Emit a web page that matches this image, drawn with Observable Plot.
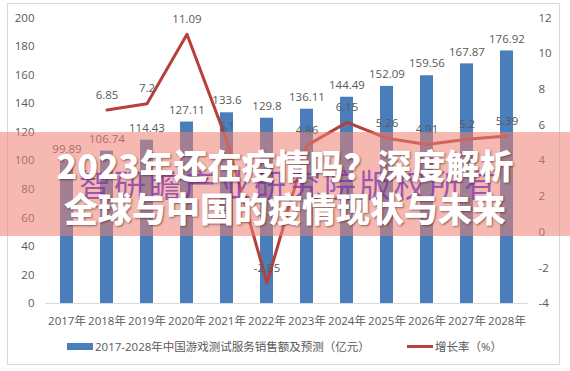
<!DOCTYPE html>
<html>
<head>
<meta charset="utf-8">
<script src="https://cdn.jsdelivr.net/npm/d3@7"></script>
<script src="https://cdn.jsdelivr.net/npm/@observablehq/plot@0.6"></script>
<style>
  html, body { margin: 0; padding: 0; background: #fff; }
  #wrap { position: relative; width: 570px; height: 371px; overflow: hidden; font-family: 'Open Sans', 'Noto Sans CJK SC', sans-serif; }
  #chart svg { display: block; }
  .frame { position: absolute; left: 7px; top: 3px; width: 553px; height: 362px; border: 1px solid #d9d9d9; box-sizing: border-box; pointer-events: none; }
  .legend { position: absolute; top: 338px; font-size: 11.5px; color: #595959; white-space: nowrap; display: flex; align-items: center; }
  .sw-bar { display: inline-block; width: 26px; height: 7px; background: #4a7ebb; margin-right: 2px; }
  .sw-line { display: inline-block; width: 26px; height: 3px; background: #b5403d; margin-right: 2px; }
  .banner { position: absolute; left: 0; top: 132px; width: 570px; height: 104px; background: rgba(237,127,114,0.55); }
  .watermark { position: absolute; left: 0; width: 570px; top: 163px; text-align: center; font-family: 'Noto Sans CJK SC', sans-serif; font-size: 32px; letter-spacing: 3px; color: rgba(120,50,175,0.72); line-height: 40px; padding-left: 8px; box-sizing: border-box; }
  .title { position: absolute; left: 0; width: 570px; text-align: center; font-family: 'Noto Sans CJK SC', sans-serif; font-weight: 900; font-size: 34px; color: #fff; line-height: 43px; text-shadow: 1px 1px 2px rgba(60,20,20,0.55); }
</style>
</head>
<body>
<div id="wrap">
  <div id="chart"></div>
  <div class="frame"></div>
  <div class="legend" style="left:67px;"><span class="sw-bar"></span><span id="lg1"></span></div>
  <div class="legend" style="left:407px;"><span class="sw-line"></span><span id="lg2"></span></div>
  <div class="banner"></div>
  <div class="watermark" id="wm"></div>
  <div class="title" id="t1" style="top:143px;"></div>
  <div class="title" id="t2" style="top:186px;"></div>
</div>
<script>
const years = ["2017","2018","2019","2020","2021","2022","2023","2024","2025","2026","2027","2028"];
const sales = [99.89,106.74,114.43,127.11,133.6,129.8,136.11,144.49,152.09,159.56,167.87,176.92];
const growth = [null,6.85,7.2,11.09,5.1,-2.85,4.86,6.15,5.26,4.91,5.2,5.39];
const leftTicks = [0,20,40,60,80,100,120,140,160,180,200];
const rightTicks = [-4,-2,0,2,4,6,8,10,12];
const seriesBar = "2017-2028年中国游戏测试服务销售额及预测（亿元）";
const seriesLine = "增长率（%）";
const titleLine1 = "2023年还在疫情吗？深度解析";
const titleLine2 = "全球与中国的疫情现状与未来";
const watermark = "智研瞻产业研究院版权所有";

// secondary axis mapping: growth [-4,12] onto left [0,200]
const rMin = -4, rMax = 12, lMax = 200;
const toLeft = g => (g - rMin) * lMax / (rMax - rMin);
const fromLeft = v => Math.round((v * (rMax - rMin) / lMax + rMin) * 100) / 100;

const barData = years.map((y, i) => ({year: y, value: sales[i]}));
const lineData = years.map((y, i) => ({year: y, g: growth[i]})).filter(d => d.g !== null);

const chart = Plot.plot({
  width: 570,
  height: 371,
  marginLeft: 45,
  marginRight: 42,
  marginTop: 17.5,
  marginBottom: 68,
  style: {fontFamily: "'Open Sans','Noto Sans CJK SC',sans-serif", fontSize: "11px", color: "#595959", background: "transparent"},
  x: {domain: years, paddingInner: 0.68, paddingOuter: 0.34},
  y: {domain: [0, lMax]},
  marks: [
    Plot.barY(barData, {x: "year", y: "value", fill: "#4a7ebb"}),
    Plot.ruleY([0], {stroke: "#d9d9d9", strokeWidth: 1}),
    Plot.text(barData, {x: "year", y: "value", text: d => String(d.value), dy: -12, fill: "#595959", fontSize: 11.5}),
    Plot.line(lineData, {x: "year", y: d => toLeft(d.g), stroke: "#b5403d", strokeWidth: 3}),
    Plot.text(lineData, {x: "year", y: d => toLeft(d.g), text: d => String(d.g), dy: -15, fill: "#595959", fontSize: 11.5}),
    Plot.axisY({anchor: "left", ticks: leftTicks, tickSize: 0, tickPadding: 11, label: null, fontSize: 11.5}),
    Plot.axisY({anchor: "right", ticks: rightTicks.map(toLeft), tickFormat: v => String(fromLeft(v)), tickSize: 0, tickPadding: 10, label: null, fontSize: 11.5}),
    Plot.axisX({anchor: "bottom", tickSize: 0, tickPadding: 13, tickFormat: d => d + "年", label: null, fontSize: 11.5})
  ]
});
document.getElementById("chart").appendChild(chart);
document.getElementById("lg1").textContent = seriesBar;
document.getElementById("lg2").textContent = seriesLine;
document.getElementById("wm").textContent = watermark;
document.getElementById("t1").textContent = titleLine1;
document.getElementById("t2").textContent = titleLine2;
</script>
</body>
</html>
